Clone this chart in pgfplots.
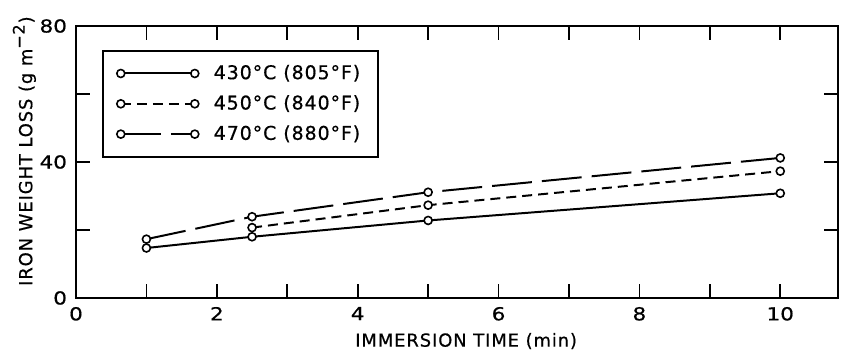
\documentclass[border=0pt]{standalone}
\usepackage{pgfplots}
\pgfplotsset{compat=1.18}
\usepackage{fontspec}
\setmainfont{DejaVu Sans}[LetterSpace=5, FakeBold=0.6]
\newfontfamily\tickfont{DejaVu Sans}[FakeStretch=1.2, FakeBold=0.6]
\begin{document}
\begin{tikzpicture}
\begin{axis}[
  name=ax,
  scale only axis,
  width=381bp, height=136bp,
  xmin=0, xmax=10.82, ymin=0, ymax=80,
  xtick={0,1,...,10},
  xticklabels={0,,2,,4,,6,,8,,10},
  ytick={0,20,40,60,80},
  yticklabels={0,,40,,80},
  tick align=inside,
  major tick length=7bp,
  tick style={black, line width=0.8pt},
  axis line style={line width=0.9pt},
  /pgf/number format/assume math mode=true,
  ticklabel style={font=\tickfont\fontsize{9}{10}\selectfont},
  xticklabel style={yshift=-1bp},
  yticklabel style={xshift=-1bp},
  xlabel={IMMERSION TIME (min)},
  ylabel={IRON WEIGHT LOSS (g m\textsuperscript{\fontsize{8}{9}\selectfont −2})},
  label style={font=\fontsize{9}{11}\selectfont},
  xlabel style={at={(rel axis cs:0.512,0)}, anchor=north, yshift=-14bp},
  ylabel style={at={(rel axis cs:0,0.54)}, anchor=south, yshift=16.5bp},
  legend style={at={(rel axis cs:0.034,0.912)}, anchor=north west,
    draw=black, line width=0.9pt, font=\fontsize{9.5}{11}\selectfont,
    row sep=2.5bp, inner xsep=7bp, inner ysep=5bp},
  legend cell align=left,
  legend image code/.code={\draw plot coordinates {(0bp,0bp) (37bp,0bp)};\path (44bp,0bp);},
  every axis plot/.append style={black, line width=1pt, mark=*, mark size=2bp,
    mark options={fill=white, solid, line width=0.8pt}},
]
\addplot[solid] coordinates {(1,14.7) (2.5,18.0) (5,22.8) (10,30.8)};
\addlegendentry{430°C (805°F)}
\addplot[dash pattern=on 5bp off 3bp] coordinates {(2.5,20.7) (5,27.3) (10,37.3)};
\addlegendentry{450°C (840°F)}
\addplot[dash pattern=on 20bp off 5bp] coordinates {(1,17.3) (2.5,23.9) (5,31.1) (10,41.2)};
\addlegendentry{470°C (880°F)}
\end{axis}
\pgfresetboundingbox
\path[use as bounding box] ([shift={(-38bp,-26.5bp)}]ax.south west) rectangle ([shift={(2.5bp,13bp)}]ax.north east);
\end{tikzpicture}
\end{document}
